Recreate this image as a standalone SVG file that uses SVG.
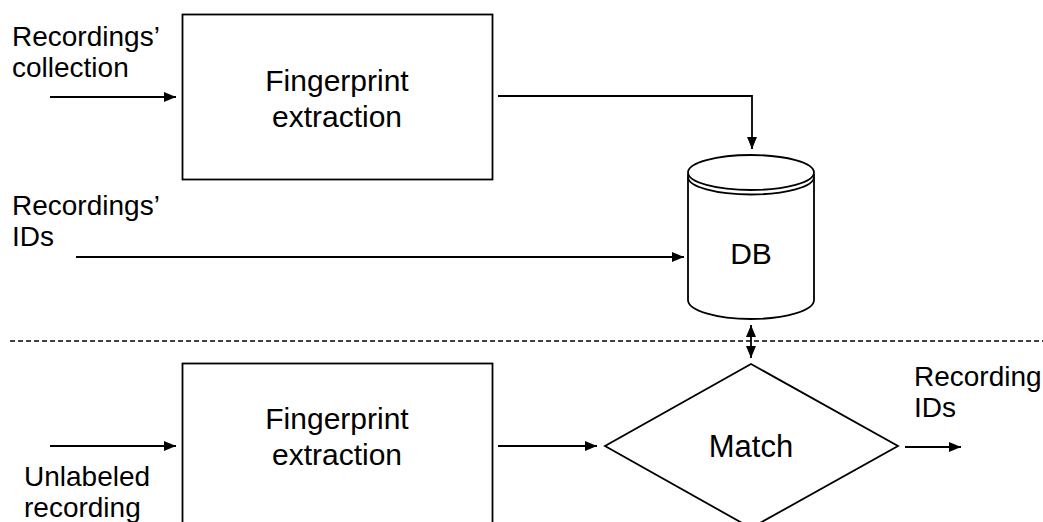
<svg xmlns="http://www.w3.org/2000/svg" width="1043" height="522" viewBox="0 0 1043 522">
  <defs>
    <marker id="arrow" viewBox="0 0 12 10" refX="12" refY="5" markerWidth="12" markerHeight="10" markerUnits="userSpaceOnUse" orient="auto-start-reverse">
      <path d="M0,0 L12,5 L0,10 Z" fill="#000"/>
    </marker>
  </defs>
  <style>
    .shape { fill: #fff; stroke: #000; stroke-width: 1.8; }
    .edge { fill: none; stroke: #000; stroke-width: 1.8; }
    .lbl { font-family: "Liberation Sans", Arial, sans-serif; font-size: 28px; fill: #000; }
    .big { font-family: "Liberation Sans", Arial, sans-serif; font-size: 30px; fill: #000; text-anchor: middle; }
  </style>
  <rect width="1043" height="522" fill="#fff"/>

  <!-- input / output labels -->
  <g id="labels">
    <text class="lbl" x="12" y="46">Recordings’</text>
    <text class="lbl" x="12" y="77">collection</text>
    <text class="lbl" x="12" y="215">Recordings’</text>
    <text class="lbl" x="12" y="246">IDs</text>
    <text class="lbl" x="24" y="486">Unlabeled</text>
    <text class="lbl" x="24" y="517">recording</text>
    <text class="lbl" x="914" y="386">Recording</text>
    <text class="lbl" x="914" y="417">IDs</text>
  </g>

  <!-- section divider -->
  <line id="divider" x1="10" y1="341" x2="1043" y2="341" stroke="#000" stroke-width="1.6" stroke-dasharray="5,3"/>

  <g id="extract-top">
    <rect class="shape" x="182.5" y="14.5" width="310" height="165"/>
    <text class="big" x="337" y="91">Fingerprint</text>
    <text class="big" x="337" y="127">extraction</text>
  </g>

  <g id="extract-bottom">
    <rect class="shape" x="182.5" y="363.5" width="310" height="170"/>
    <text class="big" x="337" y="429">Fingerprint</text>
    <text class="big" x="337" y="465">extraction</text>
  </g>

  <g id="db">
    <path class="shape" d="M688,174 L688,300 A63,19 0 0 0 814,300 L814,174"/>
    <ellipse class="shape" cx="751" cy="172.5" rx="63" ry="17.5"/>
    <path class="edge" d="M688,177 A63,17.5 0 0 0 814,177"/>
    <text class="big" x="751" y="264">DB</text>
  </g>

  <g id="match">
    <polygon class="shape" points="751,364 898,446 751,528 605,446"/>
    <text class="big" x="751" y="457" style="font-size:31px">Match</text>
  </g>

  <g id="connectors">
    <line class="edge" x1="50" y1="97" x2="176" y2="97" marker-end="url(#arrow)"/>
    <polyline class="edge" points="498,96 752,96 752,149" marker-end="url(#arrow)"/>
    <line class="edge" x1="76" y1="257" x2="684" y2="257" marker-end="url(#arrow)"/>
    <line class="edge" x1="751" y1="325" x2="751" y2="358" marker-start="url(#arrow)" marker-end="url(#arrow)"/>
    <line class="edge" x1="50" y1="446" x2="176" y2="446" marker-end="url(#arrow)"/>
    <line class="edge" x1="498" y1="446" x2="597" y2="446" marker-end="url(#arrow)"/>
    <line class="edge" x1="905" y1="447" x2="961" y2="447" marker-end="url(#arrow)"/>
  </g>
</svg>
